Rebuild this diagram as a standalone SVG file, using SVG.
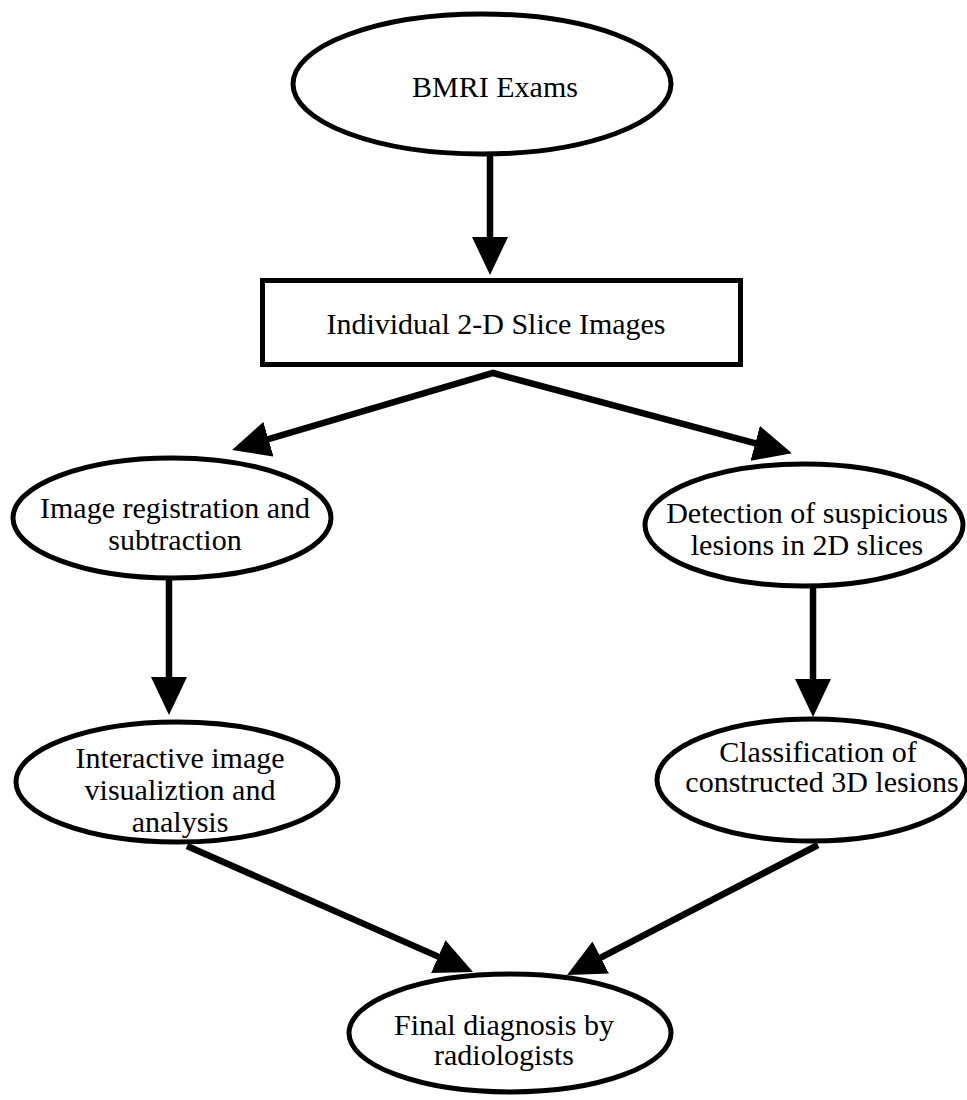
<svg xmlns="http://www.w3.org/2000/svg" width="967" height="1100" viewBox="0 0 967 1100">
  <style>
    .node { fill: #ffffff; stroke: #000000; stroke-width: 5; }
    .label { font-size: 30px; fill: #000000; text-anchor: middle; }
    .edge { fill: none; stroke: #000000; stroke-width: 6.5; stroke-linejoin: miter; }
  </style>
  <defs>
    <marker id="head" viewBox="0 0 38 36" markerUnits="userSpaceOnUse" markerWidth="38" markerHeight="36" refX="18" refY="18" orient="auto-start-reverse">
      <path d="M0,0 L38,18 L0,36 Z" fill="#000000"/>
    </marker>
  </defs>

  <rect x="0" y="0" width="967" height="1100" fill="#ffffff"/>

  <!-- connectors -->
  <g id="connectors">
    <path class="edge" d="M490,155 L490,255" marker-end="url(#head)"/>
    <path class="edge" d="M251.2,444.3 L493,373 L772.6,448" marker-start="url(#head)" marker-end="url(#head)"/>
    <path class="edge" d="M169,580 L169,695" marker-end="url(#head)"/>
    <path class="edge" d="M813,588 L813,697" marker-end="url(#head)"/>
    <path class="edge" d="M187,846 L454.7,963.9" marker-end="url(#head)"/>
    <path class="edge" d="M818,845 L584.8,965.8" marker-end="url(#head)"/>
  </g>

  <!-- nodes -->
  <g font-family="'Liberation Serif', 'Times New Roman', serif">
  <g id="bmri-exams">
    <ellipse class="node" cx="482" cy="84" rx="189" ry="70"/>
    <text class="label" x="495" y="97">BMRI Exams</text>
  </g>

  <g id="slice-images">
    <rect class="node" x="262.5" y="280.5" width="478" height="84"/>
    <text class="label" x="496" y="334">Individual 2-D Slice Images</text>
  </g>

  <g id="registration">
    <ellipse class="node" cx="172" cy="518" rx="159" ry="60"/>
    <text class="label" x="175" y="518">Image registration and</text>
    <text class="label" x="175" y="550">subtraction</text>
  </g>

  <g id="detection">
    <ellipse class="node" cx="804" cy="525" rx="159" ry="61"/>
    <text class="label" x="807" y="523">Detection of suspicious</text>
    <text class="label" x="807" y="555">lesions in 2D slices</text>
  </g>

  <g id="visualization">
    <ellipse class="node" cx="177" cy="782" rx="161" ry="60"/>
    <text class="label" x="180" y="768">Interactive image</text>
    <text class="label" x="180" y="800">visualiztion and</text>
    <text class="label" x="180" y="832">analysis</text>
  </g>

  <g id="classification">
    <ellipse class="node" cx="812" cy="780" rx="155" ry="61"/>
    <text class="label" x="818" y="762">Classification of</text>
    <text class="label" x="822" y="792">constructed 3D lesions</text>
  </g>

  <g id="final-diagnosis">
    <ellipse class="node" cx="510" cy="1033" rx="161" ry="59"/>
    <text class="label" x="504" y="1035">Final diagnosis by</text>
    <text class="label" x="504" y="1065">radiologists</text>
  </g>
  </g>
</svg>
